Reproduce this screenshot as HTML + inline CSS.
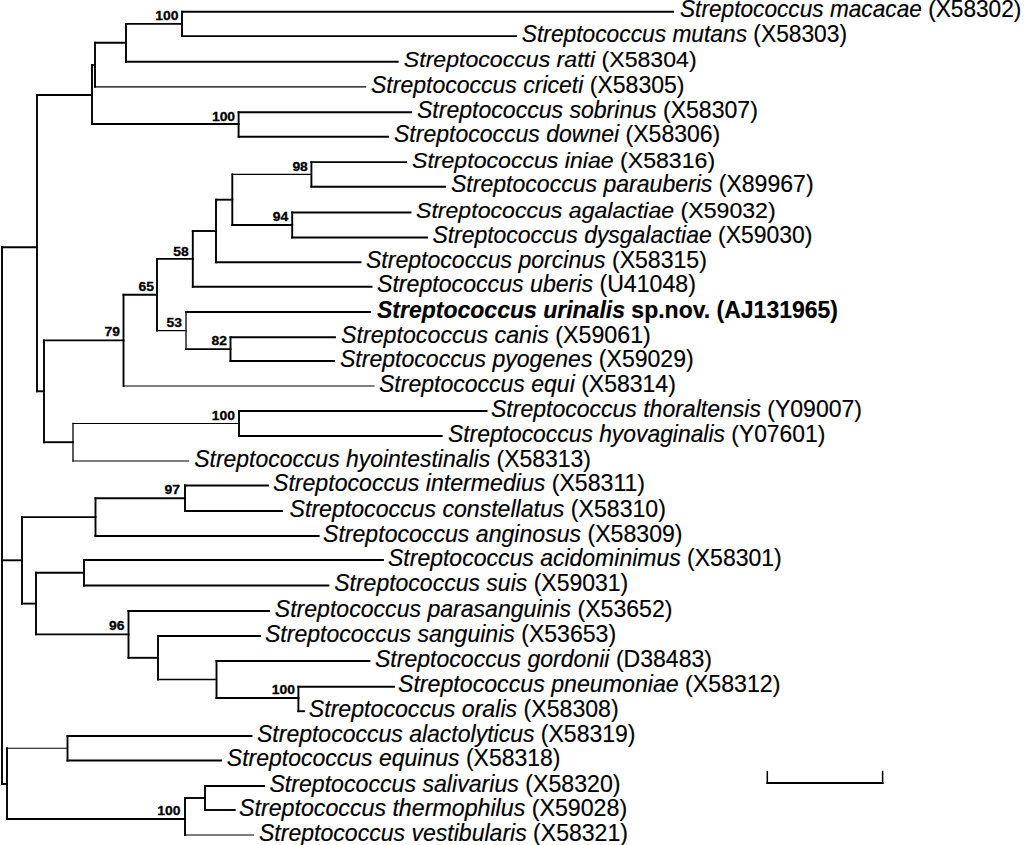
<!DOCTYPE html><html><head><meta charset="utf-8"><style>html,body{margin:0;padding:0;background:#fff;width:1024px;height:845px;overflow:hidden}svg{display:block}text{font-family:"Liberation Sans",sans-serif}</style></head><body>
<svg width="1024" height="845" viewBox="0 0 1024 845">
<g stroke="#000" stroke-linecap="square" fill="none">
<line x1="182.0" y1="11.7" x2="673.0" y2="11.7" stroke-width="1.9"/>
<line x1="182.0" y1="36.1" x2="516.0" y2="36.1" stroke-width="1.9"/>
<line x1="126.0" y1="61.7" x2="397.7" y2="61.7" stroke-width="1.9"/>
<line x1="95.0" y1="86.9" x2="365.6" y2="86.9" stroke-width="1.2"/>
<line x1="238.6" y1="112.3" x2="411.0" y2="112.3" stroke-width="1.9"/>
<line x1="238.6" y1="136.7" x2="388.0" y2="136.7" stroke-width="1.9"/>
<line x1="311.4" y1="162.1" x2="406.0" y2="162.1" stroke-width="1.9"/>
<line x1="311.4" y1="186.7" x2="445.0" y2="186.7" stroke-width="1.9"/>
<line x1="292.2" y1="212.5" x2="410.5" y2="212.5" stroke-width="1.9"/>
<line x1="292.2" y1="237.5" x2="427.0" y2="237.5" stroke-width="1.9"/>
<line x1="216.0" y1="262.3" x2="360.5" y2="262.3" stroke-width="1.9"/>
<line x1="192.8" y1="286.7" x2="371.5" y2="286.7" stroke-width="1.9"/>
<line x1="186.0" y1="312.0" x2="370.0" y2="312.0" stroke-width="1.9"/>
<line x1="230.5" y1="337.3" x2="335.0" y2="337.3" stroke-width="1.9"/>
<line x1="230.5" y1="361.0" x2="334.0" y2="361.0" stroke-width="1.9"/>
<line x1="123.5" y1="386.0" x2="374.0" y2="386.0" stroke-width="1.2"/>
<line x1="239.0" y1="411.0" x2="486.6" y2="411.0" stroke-width="1.9"/>
<line x1="239.0" y1="436.0" x2="441.7" y2="436.0" stroke-width="1.9"/>
<line x1="73.0" y1="461.0" x2="188.6" y2="461.0" stroke-width="1.2"/>
<line x1="185.0" y1="485.5" x2="268.0" y2="485.5" stroke-width="1.9"/>
<line x1="185.0" y1="511.0" x2="282.0" y2="511.0" stroke-width="1.9"/>
<line x1="95.5" y1="536.0" x2="318.7" y2="536.0" stroke-width="1.9"/>
<line x1="84.0" y1="560.0" x2="383.0" y2="560.0" stroke-width="1.9"/>
<line x1="84.0" y1="585.5" x2="328.4" y2="585.5" stroke-width="1.9"/>
<line x1="128.5" y1="611.0" x2="269.0" y2="611.0" stroke-width="1.9"/>
<line x1="158.0" y1="636.0" x2="260.0" y2="636.0" stroke-width="1.9"/>
<line x1="216.5" y1="661.0" x2="369.5" y2="661.0" stroke-width="1.9"/>
<line x1="298.4" y1="686.7" x2="394.0" y2="686.7" stroke-width="1.9"/>
<line x1="298.4" y1="711.2" x2="304.0" y2="711.2" stroke-width="1.9"/>
<line x1="67.5" y1="736.0" x2="251.5" y2="736.0" stroke-width="1.9"/>
<line x1="67.5" y1="760.5" x2="221.0" y2="760.5" stroke-width="1.9"/>
<line x1="205.0" y1="786.0" x2="264.0" y2="786.0" stroke-width="1.9"/>
<line x1="205.0" y1="810.0" x2="234.7" y2="810.0" stroke-width="1.9"/>
<line x1="185.0" y1="835.0" x2="253.4" y2="835.0" stroke-width="1.2"/>
<line x1="182.0" y1="11.7" x2="182.0" y2="36.1" stroke-width="1.9"/>
<line x1="126.0" y1="23.9" x2="182.0" y2="23.9" stroke-width="1.9"/>
<line x1="126.0" y1="23.9" x2="126.0" y2="61.7" stroke-width="1.9"/>
<line x1="95.0" y1="42.8" x2="126.0" y2="42.8" stroke-width="1.9"/>
<line x1="95.0" y1="42.8" x2="95.0" y2="86.9" stroke-width="1.9"/>
<line x1="238.6" y1="112.3" x2="238.6" y2="136.7" stroke-width="1.9"/>
<line x1="92.0" y1="65.0" x2="95.0" y2="65.0" stroke-width="1.9"/>
<line x1="92.0" y1="65.0" x2="92.0" y2="124.0" stroke-width="1.9"/>
<line x1="92.0" y1="124.0" x2="238.6" y2="124.0" stroke-width="1.9"/>
<line x1="37.0" y1="95.0" x2="92.0" y2="95.0" stroke-width="1.9"/>
<line x1="311.4" y1="162.1" x2="311.4" y2="186.7" stroke-width="1.9"/>
<line x1="292.2" y1="212.5" x2="292.2" y2="237.5" stroke-width="1.9"/>
<line x1="232.3" y1="174.4" x2="311.4" y2="174.4" stroke-width="1.3"/>
<line x1="232.3" y1="225.0" x2="292.2" y2="225.0" stroke-width="1.9"/>
<line x1="232.3" y1="174.4" x2="232.3" y2="225.0" stroke-width="1.9"/>
<line x1="216.0" y1="199.7" x2="232.3" y2="199.7" stroke-width="1.9"/>
<line x1="216.0" y1="199.7" x2="216.0" y2="262.3" stroke-width="1.9"/>
<line x1="192.8" y1="231.0" x2="216.0" y2="231.0" stroke-width="1.9"/>
<line x1="192.8" y1="231.0" x2="192.8" y2="286.7" stroke-width="1.9"/>
<line x1="230.5" y1="337.3" x2="230.5" y2="361.0" stroke-width="1.9"/>
<line x1="186.0" y1="349.1" x2="230.5" y2="349.1" stroke-width="1.9"/>
<line x1="186.0" y1="312.0" x2="186.0" y2="349.1" stroke-width="1.3"/>
<line x1="157.0" y1="258.9" x2="192.8" y2="258.9" stroke-width="1.9"/>
<line x1="157.0" y1="330.6" x2="186.0" y2="330.6" stroke-width="1.3"/>
<line x1="157.0" y1="258.9" x2="157.0" y2="330.6" stroke-width="1.9"/>
<line x1="123.5" y1="294.7" x2="157.0" y2="294.7" stroke-width="1.9"/>
<line x1="123.5" y1="294.7" x2="123.5" y2="386.0" stroke-width="1.9"/>
<line x1="239.0" y1="411.0" x2="239.0" y2="436.0" stroke-width="1.9"/>
<line x1="73.0" y1="423.5" x2="239.0" y2="423.5" stroke-width="1.1"/>
<line x1="73.0" y1="423.5" x2="73.0" y2="461.0" stroke-width="1.3"/>
<line x1="44.0" y1="340.4" x2="123.5" y2="340.4" stroke-width="1.9"/>
<line x1="44.0" y1="442.2" x2="73.0" y2="442.2" stroke-width="1.9"/>
<line x1="44.0" y1="340.4" x2="44.0" y2="442.2" stroke-width="1.9"/>
<line x1="37.0" y1="391.3" x2="44.0" y2="391.3" stroke-width="1.9"/>
<line x1="37.0" y1="95.0" x2="37.0" y2="391.3" stroke-width="1.9"/>
<line x1="2.0" y1="247.2" x2="37.0" y2="247.2" stroke-width="1.9"/>
<line x1="185.0" y1="485.5" x2="185.0" y2="511.0" stroke-width="1.9"/>
<line x1="95.5" y1="498.2" x2="185.0" y2="498.2" stroke-width="1.9"/>
<line x1="95.5" y1="498.2" x2="95.5" y2="536.0" stroke-width="1.9"/>
<line x1="84.0" y1="560.0" x2="84.0" y2="585.5" stroke-width="1.9"/>
<line x1="298.4" y1="686.7" x2="298.4" y2="711.2" stroke-width="1.9"/>
<line x1="216.5" y1="698.0" x2="298.4" y2="698.0" stroke-width="1.9"/>
<line x1="216.5" y1="661.0" x2="216.5" y2="698.0" stroke-width="1.9"/>
<line x1="158.0" y1="679.5" x2="216.5" y2="679.5" stroke-width="1.3"/>
<line x1="158.0" y1="636.0" x2="158.0" y2="679.5" stroke-width="1.9"/>
<line x1="128.5" y1="657.8" x2="158.0" y2="657.8" stroke-width="1.9"/>
<line x1="128.5" y1="611.0" x2="128.5" y2="657.8" stroke-width="1.9"/>
<line x1="36.0" y1="572.8" x2="84.0" y2="572.8" stroke-width="1.9"/>
<line x1="36.0" y1="634.4" x2="128.5" y2="634.4" stroke-width="1.9"/>
<line x1="36.0" y1="572.8" x2="36.0" y2="634.4" stroke-width="1.9"/>
<line x1="22.0" y1="517.1" x2="95.5" y2="517.1" stroke-width="1.9"/>
<line x1="22.0" y1="603.6" x2="36.0" y2="603.6" stroke-width="1.9"/>
<line x1="22.0" y1="517.1" x2="22.0" y2="603.6" stroke-width="1.9"/>
<line x1="2.0" y1="560.3" x2="22.0" y2="560.3" stroke-width="1.9"/>
<line x1="67.5" y1="736.0" x2="67.5" y2="760.5" stroke-width="1.9"/>
<line x1="7.0" y1="748.2" x2="67.5" y2="748.2" stroke-width="1.1"/>
<line x1="205.0" y1="786.0" x2="205.0" y2="810.0" stroke-width="1.9"/>
<line x1="185.0" y1="798.0" x2="205.0" y2="798.0" stroke-width="1.9"/>
<line x1="185.0" y1="798.0" x2="185.0" y2="835.0" stroke-width="1.9"/>
<line x1="7.0" y1="819.0" x2="185.0" y2="819.0" stroke-width="1.9"/>
<line x1="7.0" y1="748.2" x2="7.0" y2="819.0" stroke-width="1.9"/>
<line x1="2.0" y1="784.0" x2="7.0" y2="784.0" stroke-width="1.9"/>
<line x1="2.0" y1="247.2" x2="2.0" y2="784.0" stroke-width="1.9"/>
<line x1="767.3" y1="783.0" x2="882.6" y2="783.0" stroke-width="1.9"/>
<line x1="767.3" y1="771.8" x2="767.3" y2="783.0" stroke-width="1.5"/>
<line x1="882.6" y1="771.5" x2="882.6" y2="783.0" stroke-width="1.5"/>
</g>
<g font-size="23" fill="#000" stroke="#000" stroke-width="0.18">
<text x="0" y="0" transform="translate(680.01,17.30) scale(0.9855,1)"><tspan font-style="italic">Streptococcus macacae</tspan> (X58302)</text>
<text x="0" y="0" transform="translate(521.80,41.70) scale(0.9905,1)"><tspan font-style="italic">Streptococcus mutans</tspan> (X58303)</text>
<text x="0" y="0" transform="translate(403.80,67.30) scale(1.0049,1)"><tspan font-style="italic">Streptococcus ratti</tspan> (X58304)</text>
<text x="0" y="0" transform="translate(371.00,92.50) scale(1.0016,1)"><tspan font-style="italic">Streptococcus criceti</tspan> (X58305)</text>
<text x="0" y="0" transform="translate(417.00,117.90) scale(1.0030,1)"><tspan font-style="italic">Streptococcus sobrinus</tspan> (X58307)</text>
<text x="0" y="0" transform="translate(394.00,142.30) scale(1.0016,1)"><tspan font-style="italic">Streptococcus downei</tspan> (X58306)</text>
<text x="0" y="0" transform="translate(411.99,167.70) scale(1.0050,1)"><tspan font-style="italic">Streptococcus iniae</tspan> (X58316)</text>
<text x="0" y="0" transform="translate(451.00,192.30) scale(1.0028,1)"><tspan font-style="italic">Streptococcus parauberis</tspan> (X89967)</text>
<text x="0" y="0" transform="translate(415.99,218.10) scale(1.0051,1)"><tspan font-style="italic">Streptococcus agalactiae</tspan> (X59032)</text>
<text x="0" y="0" transform="translate(432.40,243.10) scale(0.9976,1)"><tspan font-style="italic">Streptococcus dysgalactiae</tspan> (X59030)</text>
<text x="0" y="0" transform="translate(366.00,267.90) scale(1.0030,1)"><tspan font-style="italic">Streptococcus porcinus</tspan> (X58315)</text>
<text x="0" y="0" transform="translate(376.99,292.30) scale(1.0063,1)"><tspan font-style="italic">Streptococcus uberis</tspan> (U41048)</text>
<text x="0" y="0" transform="translate(377.00,317.60) scale(1.0000,1)" font-weight="bold"><tspan font-style="italic">Streptococcus urinalis</tspan> sp.nov. (AJ131965)</text>
<text x="0" y="0" transform="translate(340.99,342.90) scale(1.0099,1)"><tspan font-style="italic">Streptococcus canis</tspan> (X59061)</text>
<text x="0" y="0" transform="translate(340.00,366.60) scale(1.0029,1)"><tspan font-style="italic">Streptococcus pyogenes</tspan> (X59029)</text>
<text x="0" y="0" transform="translate(379.00,391.60) scale(1.0014,1)"><tspan font-style="italic">Streptococcus equi</tspan> (X58314)</text>
<text x="0" y="0" transform="translate(491.00,416.60) scale(1.0011,1)"><tspan font-style="italic">Streptococcus thoraltensis</tspan> (Y09007)</text>
<text x="0" y="0" transform="translate(448.00,441.60) scale(0.9940,1)"><tspan font-style="italic">Streptococcus hyovaginalis</tspan> (Y07601)</text>
<text x="0" y="0" transform="translate(194.20,466.60) scale(0.9982,1)"><tspan font-style="italic">Streptococcus hyointestinalis</tspan> (X58313)</text>
<text x="0" y="0" transform="translate(272.99,491.10) scale(1.0054,1)"><tspan font-style="italic">Streptococcus intermedius</tspan> (X58311)</text>
<text x="0" y="0" transform="translate(289.60,516.60) scale(1.0048,1)"><tspan font-style="italic">Streptococcus constellatus</tspan> (X58310)</text>
<text x="0" y="0" transform="translate(323.00,541.60) scale(1.0045,1)"><tspan font-style="italic">Streptococcus anginosus</tspan> (X58309)</text>
<text x="0" y="0" transform="translate(388.00,565.60) scale(1.0000,1)"><tspan font-style="italic">Streptococcus acidominimus</tspan> (X58301)</text>
<text x="0" y="0" transform="translate(334.20,591.10) scale(1.0003,1)"><tspan font-style="italic">Streptococcus suis</tspan> (X59031)</text>
<text x="0" y="0" transform="translate(274.80,616.60) scale(1.0036,1)"><tspan font-style="italic">Streptococcus parasanguinis</tspan> (X53652)</text>
<text x="0" y="0" transform="translate(265.00,641.60) scale(1.0029,1)"><tspan font-style="italic">Streptococcus sanguinis</tspan> (X53653)</text>
<text x="0" y="0" transform="translate(375.00,666.60) scale(1.0030,1)"><tspan font-style="italic">Streptococcus gordonii</tspan> (D38483)</text>
<text x="0" y="0" transform="translate(397.99,692.30) scale(1.0072,1)"><tspan font-style="italic">Streptococcus pneumoniae</tspan> (X58312)</text>
<text x="0" y="0" transform="translate(308.79,716.80) scale(1.0062,1)"><tspan font-style="italic">Streptococcus oralis</tspan> (X58308)</text>
<text x="0" y="0" transform="translate(257.00,741.60) scale(1.0003,1)"><tspan font-style="italic">Streptococcus alactolyticus</tspan> (X58319)</text>
<text x="0" y="0" transform="translate(226.80,766.10) scale(1.0000,1)"><tspan font-style="italic">Streptococcus equinus</tspan> (X58318)</text>
<text x="0" y="0" transform="translate(269.40,791.60) scale(1.0063,1)"><tspan font-style="italic">Streptococcus salivarius</tspan> (X58320)</text>
<text x="0" y="0" transform="translate(238.99,815.60) scale(1.0091,1)"><tspan font-style="italic">Streptococcus thermophilus</tspan> (X59028)</text>
<text x="0" y="0" transform="translate(259.00,840.60) scale(1.0027,1)"><tspan font-style="italic">Streptococcus vestibularis</tspan> (X58321)</text>
</g>
<g font-size="13" font-weight="bold" fill="#000" stroke="#000" stroke-width="0.3" text-anchor="end">
<text x="0" y="0" transform="translate(178.40,19.70) scale(1.07,1)">100</text>
<text x="0" y="0" transform="translate(235.10,120.80) scale(1.07,1)">100</text>
<text x="0" y="0" transform="translate(307.85,170.80) scale(1.07,1)">98</text>
<text x="0" y="0" transform="translate(288.15,221.05) scale(1.07,1)">94</text>
<text x="0" y="0" transform="translate(188.70,256.20) scale(1.07,1)">58</text>
<text x="0" y="0" transform="translate(227.00,345.15) scale(1.07,1)">82</text>
<text x="0" y="0" transform="translate(182.00,327.07) scale(1.07,1)">53</text>
<text x="0" y="0" transform="translate(154.00,291.21) scale(1.07,1)">65</text>
<text x="0" y="0" transform="translate(120.00,336.36) scale(1.07,1)">79</text>
<text x="0" y="0" transform="translate(235.00,420.00) scale(1.07,1)">100</text>
<text x="0" y="0" transform="translate(180.00,494.25) scale(1.07,1)">97</text>
<text x="0" y="0" transform="translate(294.95,694.30) scale(1.07,1)">100</text>
<text x="0" y="0" transform="translate(124.50,630.38) scale(1.07,1)">96</text>
<text x="0" y="0" transform="translate(180.40,814.95) scale(1.07,1)">100</text>
</g></svg></body></html>
